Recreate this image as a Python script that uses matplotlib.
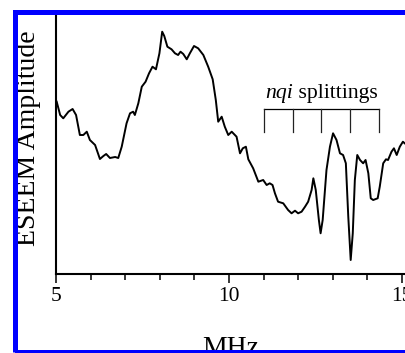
import matplotlib
matplotlib.use("Agg")
import matplotlib.pyplot as plt
from matplotlib.patches import Rectangle
from matplotlib.ticker import MultipleLocator

plt.rcParams["font.family"] = ["Liberation Serif", "DejaVu Serif"]

# ESEEM spectrum (frequency in MHz, amplitude in arbitrary units)
freq = [5.02, 5.12, 5.21, 5.36, 5.48, 5.58, 5.69, 5.79, 5.89, 5.98,
        6.13, 6.27, 6.37, 6.45, 6.56, 6.71, 6.80, 6.90, 7.04, 7.14,
        7.23, 7.28, 7.38, 7.48, 7.59, 7.69, 7.79, 7.89, 7.99, 8.07,
        8.13, 8.22, 8.34, 8.44, 8.53, 8.60, 8.68, 8.78, 8.87, 8.99,
        9.11, 9.26, 9.40, 9.53, 9.62, 9.69, 9.79, 9.88, 9.98, 10.08,
        10.22, 10.32, 10.40, 10.49, 10.56, 10.70, 10.85, 10.99, 11.09, 11.18,
        11.26, 11.33, 11.42, 11.57, 11.71, 11.81, 11.91, 12.00, 12.10, 12.20,
        12.29, 12.39, 12.44, 12.51, 12.60, 12.65, 12.71, 12.82, 12.92, 13.01,
        13.11, 13.21, 13.30, 13.38, 13.45, 13.52, 13.58, 13.64, 13.71, 13.79,
        13.88, 13.95, 14.03, 14.10, 14.17, 14.30, 14.36, 14.46, 14.54, 14.60,
        14.70, 14.77, 14.85, 14.94, 15.03, 15.08]
amplitude = [172.3, 159, 155.7, 162.3, 165, 159, 139, 139, 142.3, 134,
             129, 115, 118, 120, 116, 117, 116, 127.3, 150.7, 160.7,
             162.3, 159, 170.7, 187.3, 192.3, 200.7, 207.3, 204.7, 220.7, 242.3,
             238, 227.3, 224.7, 220.7, 219, 222.3, 220, 214.7, 220.7, 228,
             225.7, 219, 207.3, 194.7, 174, 152.3, 157.3, 147.3, 139, 142.3,
             137.3, 120.7, 125.7, 127.3, 114.7, 105.7, 92.3, 94, 89, 90.7,
             89, 80.7, 72.3, 70.7, 64, 60.7, 63.3, 60.7, 62.3, 67.3,
             72.3, 84, 95.7, 84, 54, 40.7, 54, 104, 127.3, 140.7,
             134, 120.7, 119, 110.7, 57.3, 14, 40.7, 94, 119, 114,
             110.7, 114, 100.7, 75.7, 74, 75.7, 87.3, 110.7, 114.7, 114,
             122.3, 125.7, 119, 127.3, 132.3, 130.7]

# nqi splitting markers
splittings = [11.01, 11.84, 12.65, 13.50, 14.33]
bracket_top = 165
bracket_bottom = 142

fig = plt.figure(figsize=(4.05, 3.53), dpi=100)
ax = fig.add_axes([56 / 405, 79 / 353, 1 - 56 / 405, 260 / 353])

ax.plot(freq, amplitude, color="black", lw=1.4, solid_joinstyle="round")

# bracket marking the nqi splittings
ax.plot([splittings[0], splittings[-1]], [bracket_top, bracket_top], color="black", lw=0.9)
for s in splittings:
    ax.plot([s, s], [bracket_bottom, bracket_top], color="#222222", lw=0.9)
t1 = ax.text(11.04, 176, "nqi", style="italic", ha="left", va="baseline", fontsize=15.7)
ax.annotate(" splittings", xy=(1, 0), xycoords=t1, ha="left", va="bottom", fontsize=15.7)

ax.set_xlim(5, 15.09)
ax.set_ylim(0, 260)
ax.xaxis.set_major_locator(MultipleLocator(5))
ax.xaxis.set_minor_locator(MultipleLocator(1))
ax.set_yticks([])
ax.tick_params(axis="x", which="major", length=6.5, width=1.1, labelsize=15.5, pad=3)
ax.tick_params(axis="x", which="minor", length=4.3, width=1.1)
for side in ("top", "right"):
    ax.spines[side].set_visible(False)
for side in ("left", "bottom"):
    ax.spines[side].set_linewidth(1.5)

fig.text(231 / 405, 1 - 355 / 353, "MHz", ha="center", va="baseline", fontsize=20, zorder=0.5)
fig.text(28.5 / 405, 1 - 138 / 353, "ESEEM Amplitude", rotation=90,
         ha="center", va="center", fontsize=20, zorder=0.5)

fig.add_artist(Rectangle((14.5 / 405, 1.5 / 353), 1.2, 340 / 353,
                         transform=fig.transFigure, fill=False,
                         edgecolor="#0000ff", lw=3.6, zorder=1))

fig.savefig("out.png", dpi=100)
